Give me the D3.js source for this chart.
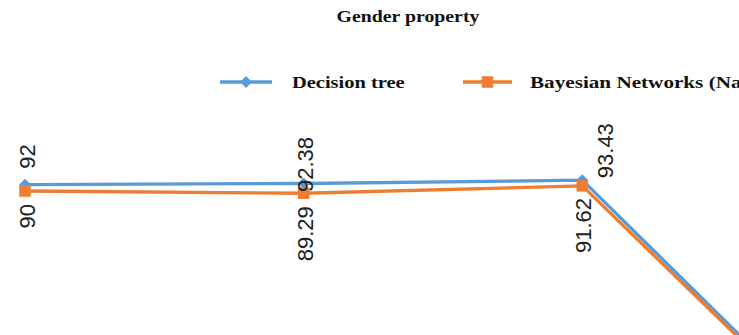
<!DOCTYPE html>
<html>
<head>
<meta charset="utf-8">
<script src="https://cdn.jsdelivr.net/npm/d3@7"></script>
<style>
  html, body { margin: 0; padding: 0; background: #fff; }
  svg { display: block; }
</style>
</head>
<body>
<svg id="chart" width="739" height="335"></svg>
<script>
// ---- data ----
const title = "Gender property";
const categories = ["C1", "C2", "C3", "C4"];
const seriesNames = ["Decision tree", "Bayesian Networks (Naïve Bayes)"];
const decisionTree = [92, 92.38, 93.43, 6.2];
const bayesianNetworks = [90, 89.29, 91.62, 5.7];

// ---- styles / layout ----
const colors = ["#5B9BD5", "#ED7D31"];
const W = 739, H = 335;
const svg = d3.select("#chart");

// plot extends beyond the visible window (the reference is a crop)
const x = d3.scalePoint().domain(categories).range([25, 861]);
const y = d3.scaleLinear().domain([0, 100]).range([474.5, 159.5]);

// label offsets relative to each point (style, not data)
const blueLabelOffsets = [[2, -16], [1, 8.5], [23, -2], [2, -16]];
const orangeLabelOffsets = [[2, 13], [1, 13], [1, 12], [1, 13]];

const series = [
  { name: seriesNames[0], values: decisionTree, color: colors[0], marker: "diamond" },
  { name: seriesNames[1], values: bayesianNetworks, color: colors[1], marker: "square" }
];

const line = d3.line()
  .x((d, i) => x(categories[i]))
  .y(d => y(d));

const plot = svg.append("g");

series.forEach(s => {
  plot.append("path")
    .datum(s.values)
    .attr("d", line)
    .attr("fill", "none")
    .attr("stroke", s.color)
    .attr("stroke-width", 3.3)
    .attr("stroke-linejoin", "round");
});

function drawMarker(g, type, cx, cy, color) {
  if (type === "diamond") {
    const r = 6;
    g.append("path")
      .attr("d", `M${cx},${cy - r}L${cx + r},${cy}L${cx},${cy + r}L${cx - r},${cy}Z`)
      .attr("fill", color);
  } else {
    const s = 11.5;
    g.append("rect")
      .attr("x", cx - s / 2).attr("y", cy - s / 2)
      .attr("width", s).attr("height", s)
      .attr("fill", color);
  }
}

series.forEach(s => {
  s.values.forEach((v, i) => drawMarker(plot, s.marker, x(categories[i]), y(v), s.color));
});

// data labels (rotated) — only for points inside the visible window
const labelFont = "'Liberation Sans', Arial, sans-serif";
function visible(i) { return x(categories[i]) < W; }
decisionTree.forEach((v, i) => {
  if (!visible(i)) return;
  const [dx, dy] = blueLabelOffsets[i];
  svg.append("text")
    .attr("transform", `translate(${x(categories[i]) + dx},${y(v) + dy}) rotate(-90)`)
    .attr("dy", "0.36em")
    .attr("text-anchor", "start")
    .attr("font-family", labelFont)
    .attr("font-size", 22)
    .attr("fill", "#222")
    .text(String(v));
});
bayesianNetworks.forEach((v, i) => {
  if (!visible(i)) return;
  const [dx, dy] = orangeLabelOffsets[i];
  svg.append("text")
    .attr("transform", `translate(${x(categories[i]) + dx},${y(v) + dy}) rotate(-90)`)
    .attr("dy", "0.36em")
    .attr("text-anchor", "end")
    .attr("font-family", labelFont)
    .attr("font-size", 22)
    .attr("fill", "#222")
    .text(String(v));
});

// title
const serif = "'Liberation Serif', 'Times New Roman', serif";
svg.append("text")
  .attr("transform", "translate(408,21.5) scale(1.2,1)")
  .attr("text-anchor", "middle")
  .attr("font-family", serif)
  .attr("font-weight", "bold")
  .attr("font-size", 16.5)
  .attr("fill", "#111")
  .text(title);

// legend
const legendItems = [
  { x1: 220, x2: 272, tx: 292, sx: 1.17 },
  { x1: 463, x2: 512, tx: 530, sx: 1.21 }
];
const legendY = 82;
series.forEach((s, i) => {
  const L = legendItems[i];
  const g = svg.append("g");
  g.append("line")
    .attr("x1", L.x1).attr("x2", L.x2)
    .attr("y1", legendY).attr("y2", legendY)
    .attr("stroke", s.color).attr("stroke-width", 3.3);
  drawMarker(g, s.marker, (L.x1 + L.x2) / 2, legendY, s.color);
  g.append("text")
    .attr("transform", `translate(${L.tx},${legendY + 5.5}) scale(${L.sx},1)`)
    .attr("font-family", serif)
    .attr("font-weight", "bold")
    .attr("font-size", 17.5)
    .attr("fill", "#111")
    .text(s.name);
});
</script>
</body>
</html>
